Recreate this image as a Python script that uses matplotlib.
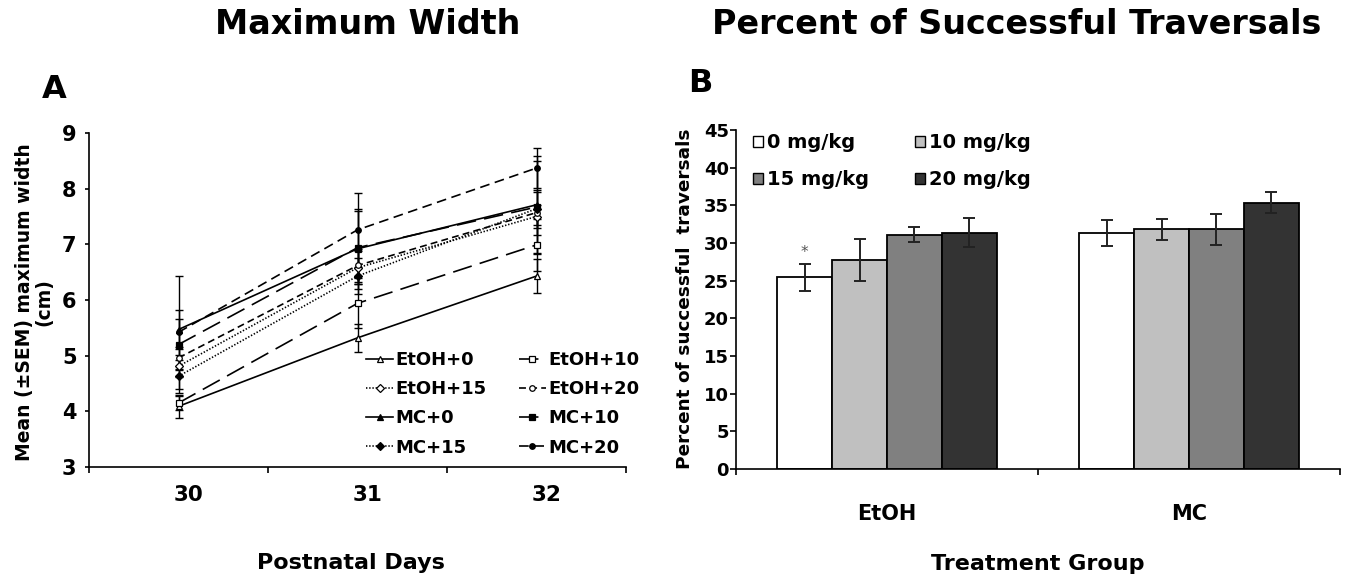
import matplotlib
matplotlib.use("Agg")
import matplotlib.pyplot as plt
from matplotlib.transforms import ScaledTranslation
from matplotlib.patches import Patch

# ---- data: panel A (maximum width, cm) ----
days = ["30", "31", "32"]
series_names = ["EtOH+0", "EtOH+10", "EtOH+15", "EtOH+20",
                "MC+0", "MC+10", "MC+15", "MC+20"]
etoh0 = [4.09, 5.32, 6.43]
etoh10 = [4.15, 5.94, 6.99]
etoh15 = [4.81, 6.58, 7.50]
etoh20 = [4.96, 6.62, 7.57]
mc0 = [5.47, 6.92, 7.71]
mc10 = [5.20, 6.94, 7.67]
mc15 = [4.63, 6.43, 7.64]
mc20 = [5.42, 7.26, 8.37]

etoh0_sem = [0.21, 0.25, 0.30]
etoh10_sem = [0.12, 0.45, 0.47]
etoh15_sem = [0.20, 0.30, 0.20]
etoh20_sem = [0.20, 0.30, 0.40]
mc0_sem = [0.35, 0.72, 0.88]
mc10_sem = [0.46, 0.65, 0.82]
mc15_sem = [0.30, 0.33, 0.30]
mc20_sem = [1.02, 0.66, 0.36]

# ---- data: panel B (percent of successful traversals) ----
groups = ["EtOH", "MC"]
doses = ["0 mg/kg", "10 mg/kg", "15 mg/kg", "20 mg/kg"]
etoh_pct = [25.46, 27.76, 31.08, 31.38]
etoh_pct_sem = [1.77, 2.75, 1.00, 1.95]
mc_pct = [31.30, 31.83, 31.83, 35.37]
mc_pct_sem = [1.70, 1.42, 2.05, 1.42]

plt.rcParams['font.family'] = ['DejaVu Sans']
plt.rcParams['font.weight'] = 'bold'
plt.rcParams['lines.scale_dashes'] = False

W, H = 1349, 578
fig = plt.figure(figsize=(W / 100, H / 100), dpi=100)


def fx(px):
    return px / W


def fy(py):
    return 1 - py / H


# ---------------- panel A ----------------
axA = fig.add_axes([fx(89), fy(467), fx(626) - fx(89), fy(133) - fy(467)])

means = [etoh0, etoh10, etoh15, etoh20, mc0, mc10, mc15, mc20]
sems = [etoh0_sem, etoh10_sem, etoh15_sem, etoh20_sem,
        mc0_sem, mc10_sem, mc15_sem, mc20_sem]
styles = [
    dict(marker='^', mfc='white', ms=5, ls='-'),
    dict(marker='s', mfc='white', ms=5, dashes=(14, 6)),
    dict(marker='D', mfc='white', ms=4, dashes=(1, 1.3)),
    dict(marker='o', mfc='white', ms=4, dashes=(5, 3)),
    dict(marker='^', mfc='black', ms=5, ls='-'),
    dict(marker='s', mfc='black', ms=5, dashes=(14, 6)),
    dict(marker='D', mfc='black', ms=4, dashes=(1, 1.3)),
    dict(marker='o', mfc='black', ms=4, dashes=(7, 4)),
]
x = list(range(len(days)))

for m, s in zip(means, sems):
    axA.errorbar(x, m, yerr=s, fmt='none', ecolor='black', elinewidth=1.0,
                 capsize=3, capthick=1.0, zorder=2)

handles = []
for name, m, st in zip(series_names, means, styles):
    ln, = axA.plot(x, m, color='black', lw=1.2, mec='black', mew=0.9,
                   label=name, zorder=3, **st)
    handles.append(ln)

axA.set_xlim(-0.5, 2.5)
axA.set_ylim(3, 9)
axA.set_yticks(range(3, 10))
axA.set_xticks([-0.5, 0.5, 1.5, 2.5])
axA.set_xticklabels([])
axA.set_xticks(x, minor=True)
axA.set_xticklabels(days, minor=True)
axA.tick_params(axis='x', which='minor', length=0, pad=13, labelsize=15.5)
axA.tick_params(axis='x', which='major', length=4, width=1.2, direction='out')
axA.tick_params(axis='y', length=3, width=1.2, direction='out', pad=6, labelsize=15)
for lab in axA.get_xticklabels(minor=True):
    lab.set_transform(lab.get_transform() + ScaledTranslation(0.1, 0, fig.dpi_scale_trans))
for sp in ['top', 'right']:
    axA.spines[sp].set_visible(False)
for sp in ['left', 'bottom']:
    axA.spines[sp].set_linewidth(1.2)

order = [0, 2, 4, 6, 1, 3, 5, 7]
axA.legend([handles[i] for i in order], [series_names[i] for i in order],
           ncol=2, frameon=False, fontsize=13, loc='upper left',
           bbox_to_anchor=(fx(366), fy(351)), bbox_transform=fig.transFigure,
           borderaxespad=0, borderpad=0, handlelength=1.5, handletextpad=0.15,
           columnspacing=1.75, labelspacing=0.62, markerscale=1.0)

fig.text(fx(34), fy(302), "Mean (±SEM) maximum width\n(cm)", rotation=90,
         ha='center', va='center', fontsize=13.5, fontweight='bold',
         multialignment='center', linespacing=1.0)
fig.text(fx(351), fy(563), "Postnatal Days", ha='center', va='center',
         fontsize=16, fontweight='bold')
fig.text(fx(368), fy(25), "Maximum Width", ha='center', va='center',
         fontsize=24, fontweight='bold')
fig.text(fx(54), fy(89), "A", ha='center', va='center', fontsize=23,
         fontweight='bold')

# ---------------- panel B ----------------
axB = fig.add_axes([fx(736), fy(469), fx(1340) - fx(736), fy(130) - fy(469)])

bar_colors = ['#ffffff', '#c0c0c0', '#808080', '#333333']
bw = 1 / 5.5
gx = list(range(len(groups)))
for i in range(len(doses)):
    vals = [etoh_pct[i], mc_pct[i]]
    errs = [etoh_pct_sem[i], mc_pct_sem[i]]
    pos = [g + (i - 1.5) * bw for g in gx]
    axB.bar(pos, vals, width=bw, color=bar_colors[i], edgecolor='black',
            linewidth=1.3, zorder=2)
    axB.errorbar(pos, vals, yerr=errs, fmt='none', ecolor='#222222',
                 elinewidth=1.4, capsize=4, capthick=1.4, zorder=3)

axB.text(0 - 1.5 * bw, 28.7, "*", ha='center', va='center', fontsize=11,
         color='#555555', fontweight='normal')

axB.set_xlim(-0.5, 1.5)
axB.set_ylim(0, 45)
axB.set_yticks(range(0, 46, 5))
axB.set_xticks([-0.5, 0.5, 1.5])
axB.set_xticklabels([])
axB.set_xticks(gx, minor=True)
axB.set_xticklabels(groups, minor=True)
axB.tick_params(axis='x', which='minor', length=0, pad=25, labelsize=15)
axB.tick_params(axis='x', which='major', length=4, width=1.2, direction='out')
axB.tick_params(axis='y', length=4, width=1.2, direction='out', pad=1, labelsize=13)
for sp in ['top', 'right']:
    axB.spines[sp].set_visible(False)
for sp in ['left', 'bottom']:
    axB.spines[sp].set_linewidth(1.2)

patches = [Patch(facecolor=c, edgecolor='black', linewidth=1.0) for c in bar_colors]
orderB = [0, 2, 1, 3]
axB.legend([patches[i] for i in orderB], [doses[i] for i in orderB], ncol=2,
           frameon=False, fontsize=14, loc='upper left',
           bbox_to_anchor=(fx(753), fy(133)), bbox_transform=fig.transFigure,
           borderaxespad=0, borderpad=0, handlelength=0.5, handleheight=0.5,
           handletextpad=0.2, columnspacing=2.4, labelspacing=0.95)

fig.text(fx(685), fy(299), "Percent of successful  traversals", rotation=90,
         ha='center', va='center', fontsize=13.3, fontweight='bold')
fig.text(fx(1038), fy(564), "Treatment Group", ha='center', va='center',
         fontsize=16, fontweight='bold')
fig.text(fx(1017), fy(25), "Percent of Successful Traversals", ha='center',
         va='center', fontsize=24, fontweight='bold')
fig.text(fx(700), fy(84), "B", ha='center', va='center', fontsize=23,
         fontweight='bold')

fig.savefig("out.png", dpi=100)
